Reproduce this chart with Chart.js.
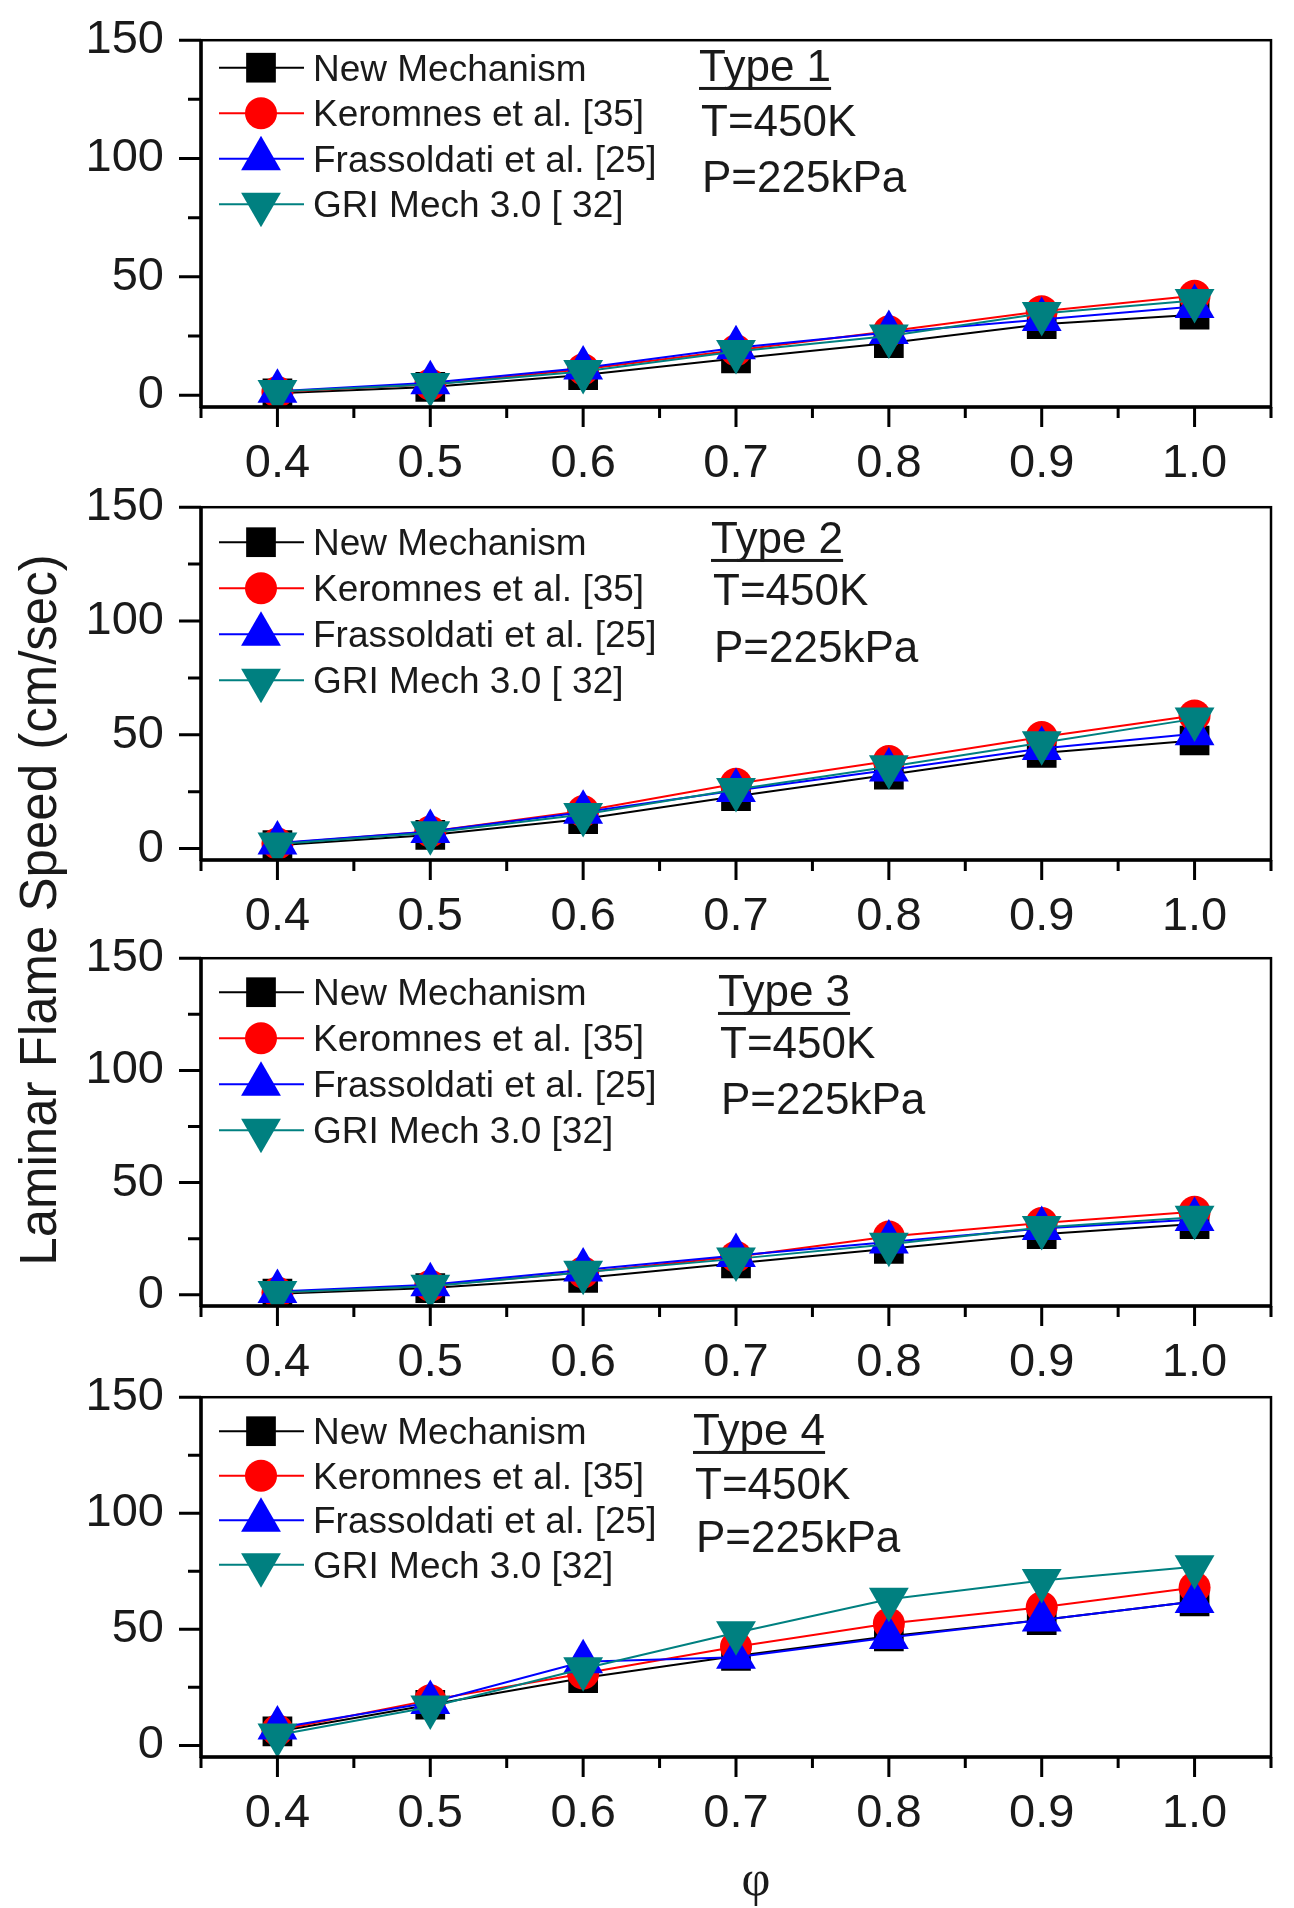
<!DOCTYPE html>
<html><head><meta charset="utf-8">
<script src="https://cdn.jsdelivr.net/npm/chart.js@4.4.1/dist/chart.umd.min.js"></script>
<style>
html,body{margin:0;padding:0;background:#fff;}
body{width:1294px;height:1908px;position:relative;overflow:hidden;font-family:'Liberation Sans',Arial,sans-serif;}
canvas{position:absolute;left:0;}
#ylab{position:absolute;left:-361px;top:884px;width:800px;height:52px;line-height:52px;text-align:center;font-size:51px;color:#1a1a1a;transform:rotate(-90deg);transform-origin:center center;white-space:nowrap;}
#xlab{position:absolute;left:716px;top:1850px;width:80px;text-align:center;font-family:'Liberation Serif','DejaVu Serif',serif;font-size:50px;line-height:56px;color:#1a1a1a;}
</style></head><body>
<div id="ylab">Laminar Flame Speed (cm/sec)</div>
<div id="xlab">φ</div>
<script>
// ---------- data ----------
const phi = [0.4, 0.5, 0.6, 0.7, 0.8, 0.9, 1.0];

const type1New          = [0.8, 3.5, 8.5, 15.5, 22, 30, 34];
const type1Keromnes     = [1.3, 4.5, 11, 19, 27, 35.5, 42];
const type1Frassoldati  = [1.7, 5.2, 11.5, 20, 26.5, 32, 37.5];
const type1GRI          = [1.5, 4.5, 10, 18.5, 25, 34.5, 40];

const type2New          = [1.5, 6, 13, 23, 32.5, 42, 47.5];
const type2Keromnes     = [2.2, 7.5, 16.5, 28.5, 38.5, 49, 58.5];
const type2Frassoldati  = [2.5, 7.5, 16, 25.5, 34.5, 44, 50.5];
const type2GRI          = [2, 7, 15, 26, 36, 46.5, 57];

const type3New          = [0.5, 3, 7.5, 14, 20.5, 27, 31.5];
const type3Keromnes     = [1, 4, 10, 17, 26, 32, 37];
const type3Frassoldati  = [1.5, 4.5, 11, 17.5, 23.5, 29.5, 33.5];
const type3GRI          = [1, 3.8, 10, 16, 22.5, 30, 34.5];

const type4New          = [6, 17.5, 29, 38.5, 47, 54, 62];
const type4Keromnes     = [6.5, 19.5, 31, 42.5, 52.5, 59.5, 68];
const type4Frassoldati  = [7.5, 18.5, 36, 38, 46.5, 54, 62];
const type4GRI          = [4.5, 16.5, 33, 48.5, 63, 71, 77];

const panelTitles = ['Type 1', 'Type 2', 'Type 3', 'Type 4'];
const conditionT = 'T=450K';
const conditionP = 'P=225kPa';
const seriesNames = ['New Mechanism', 'Keromnes et al. [35]', 'Frassoldati et al. [25]'];
const griNames = ['GRI Mech 3.0 [ 32]', 'GRI Mech 3.0 [ 32]', 'GRI Mech 3.0 [32]', 'GRI Mech 3.0 [32]'];

const xTickValues = [0.4, 0.5, 0.6, 0.7, 0.8, 0.9, 1.0];
const xMinorTicks = [0.35, 0.45, 0.55, 0.65, 0.75, 0.85, 0.95, 1.05];
const yTickValues = [0, 50, 100, 150];
const yMinorTicks = [25, 75, 125];

const panelSeries = [
  [type1New, type1Keromnes, type1Frassoldati, type1GRI],
  [type2New, type2Keromnes, type2Frassoldati, type2GRI],
  [type3New, type3Keromnes, type3Frassoldati, type3GRI],
  [type4New, type4Keromnes, type4Frassoldati, type4GRI]
];

// ---------- styles / layout ----------
const colors = ['#000000', '#ff0000', '#0000ff', '#008080'];
const pStyles = ['rect', 'circle', 'triangle', 'triangle'];
const pRot = [0, 0, 0, 180];
const pRad = [21, 16, 23, 23];
const FONT = "'Liberation Sans', Arial, sans-serif";

// plot-area top/bottom (page px) and in-panel text offsets
const layout = [
  {plotTop: 40,   plotBottom: 407,  legY: 27.5, legDy: 45.5, annX: 498, typeY: 25, tY: 80, pY: 136},
  {plotTop: 507,  plotBottom: 860,  legY: 35,   legDy: 46,   annX: 510, typeY: 30, tY: 82, pY: 139},
  {plotTop: 958,  plotBottom: 1306, legY: 34,   legDy: 46,   annX: 517, typeY: 32, tY: 84, pY: 140},
  {plotTop: 1397, plotBottom: 1757, legY: 34,   legDy: 44.5, annX: 492, typeY: 32, tY: 86, pY: 139}
];
const AXIS_H = 80;

function legendMarker(ctx, style, rot, r, x, y, color) {
  ctx.save();
  ctx.fillStyle = color;
  ctx.translate(x, y);
  ctx.rotate(rot * Math.PI / 180);
  ctx.beginPath();
  if (style === 'rect') {
    const s = r * Math.SQRT1_2;
    ctx.rect(-s, -s, 2 * s, 2 * s);
  } else if (style === 'circle') {
    ctx.arc(0, 0, r, 0, Math.PI * 2);
  } else {
    for (let k = 0; k < 3; k++) {
      const a = -Math.PI / 2 + k * 2 * Math.PI / 3;
      const px = r * Math.cos(a), py = r * Math.sin(a);
      if (k === 0) ctx.moveTo(px, py); else ctx.lineTo(px, py);
    }
    ctx.closePath();
  }
  ctx.fill();
  ctx.restore();
}

const framePlugin = {
  id: 'frame',
  afterDraw(chart, args, opts) {
    const {ctx, chartArea: a, scales: {x, y}} = chart;
    const i = opts.panel;
    const L = layout[i];
    ctx.save();
    ctx.strokeStyle = '#000';
    ctx.lineCap = 'butt';
    ctx.lineWidth = 2.5;
    ctx.strokeRect(a.left, a.top, a.right - a.left, a.bottom - a.top);
    ctx.lineWidth = 3.5;
    ctx.beginPath(); ctx.moveTo(a.left - 1, a.bottom); ctx.lineTo(a.right, a.bottom); ctx.stroke();
    ctx.beginPath(); ctx.moveTo(a.left, a.top); ctx.lineTo(a.left, a.bottom + 1); ctx.stroke();
    ctx.lineWidth = 3;
    ctx.beginPath();
    xTickValues.forEach(v => { const p = x.getPixelForValue(v); ctx.moveTo(p, a.bottom); ctx.lineTo(p, a.bottom + 20); });
    xMinorTicks.forEach(v => { const p = x.getPixelForValue(v); ctx.moveTo(p, a.bottom); ctx.lineTo(p, a.bottom + 11); });
    yTickValues.forEach(v => { const p = y.getPixelForValue(v); ctx.moveTo(a.left - 22, p); ctx.lineTo(a.left, p); });
    yMinorTicks.forEach(v => { const p = y.getPixelForValue(v); ctx.moveTo(a.left - 13, p); ctx.lineTo(a.left, p); });
    ctx.stroke();
    const names = seriesNames.concat([griNames[i]]);
    ctx.font = '37px ' + FONT;
    ctx.textBaseline = 'alphabetic';
    ctx.textAlign = 'left';
    names.forEach((n, k) => {
      const cy = a.top + L.legY + k * L.legDy;
      ctx.strokeStyle = colors[k];
      ctx.lineWidth = 2;
      ctx.beginPath(); ctx.moveTo(a.left + 18, cy); ctx.lineTo(a.left + 103, cy); ctx.stroke();
      legendMarker(ctx, pStyles[k], pRot[k], pRad[k], a.left + 60, cy, colors[k]);
      ctx.fillStyle = '#1a1a1a';
      ctx.fillText(n, a.left + 112, cy + 0.358 * 37);
    });
    ctx.font = '44px ' + FONT;
    ctx.fillStyle = '#1a1a1a';
    const tx = a.left + L.annX;
    const base = a.top + L.typeY + 0.358 * 44;
    ctx.fillText(panelTitles[i], tx, base);
    const w = ctx.measureText(panelTitles[i]).width;
    ctx.fillRect(tx, base + 6, w, 3);
    ctx.fillText(conditionT, tx + 2, a.top + L.tY + 0.358 * 44);
    ctx.fillText(conditionP, tx + 3, a.top + L.pY + 0.358 * 44);
    ctx.restore();
  }
};

panelSeries.forEach((series, i) => {
  const L = layout[i];
  const plotH = L.plotBottom - L.plotTop;
  const cv = document.createElement('canvas');
  let H = plotH + 30 + AXIS_H;
  cv.width = 1294; cv.height = H;
  cv.style.width = '1294px'; cv.style.height = H + 'px';
  document.body.appendChild(cv);
  const names = seriesNames.concat([griNames[i]]);
  const datasets = series.map((vals, k) => ({
    label: names[k],
    data: phi.map((p, j) => ({x: p, y: vals[j]})),
    borderColor: colors[k],
    backgroundColor: colors[k],
    borderWidth: 2,
    pointStyle: pStyles[k],
    pointRotation: pRot[k],
    pointRadius: pRad[k],
    pointBorderWidth: 0,
    pointHoverRadius: pRad[k],
    tension: 0,
    order: 3 - k
  }));
  const chart = new Chart(cv, {
    type: 'line',
    data: {datasets},
    options: {
      responsive: false,
      maintainAspectRatio: false,
      devicePixelRatio: 1,
      animation: false,
      events: [],
      layout: {padding: {top: 0, right: 1, bottom: 0, left: 0}},
      plugins: {legend: {display: false}, tooltip: {enabled: false}, frame: {panel: i}},
      scales: {
        x: {
          type: 'linear', min: 0.35, max: 1.05,
          grid: {display: false, drawTicks: false},
          border: {display: false},
          afterBuildTicks: s => { s.ticks = xTickValues.map(v => ({value: v})); },
          afterFit: s => { s.height = AXIS_H; },
          ticks: {autoSkip: false, maxRotation: 0, padding: 29, color: '#1a1a1a',
                  font: {family: FONT, size: 47}, callback: v => Number(v).toFixed(1)}
        },
        y: {
          type: 'linear', min: -5, max: 150,
          grid: {display: false, drawTicks: false},
          border: {display: false},
          afterBuildTicks: s => { s.ticks = yTickValues.map(v => ({value: v})); },
          afterFit: s => { s.width = 201; },
          ticks: {padding: 37, color: '#1a1a1a', font: {family: FONT, size: 47}, callback: v => String(v)}
        }
      }
    },
    plugins: [framePlugin]
  });
  // place canvas so the library's plot area lands where the reference's does
  const t0 = chart.chartArea.top;
  const extra = H - chart.chartArea.bottom; // space under plot area
  H = Math.round(t0 + plotH + extra);
  cv.style.height = H + 'px';
  chart.resize(1294, H);
  cv.style.top = Math.round(L.plotTop - chart.chartArea.top) + 'px';
});
</script>
</body></html>
